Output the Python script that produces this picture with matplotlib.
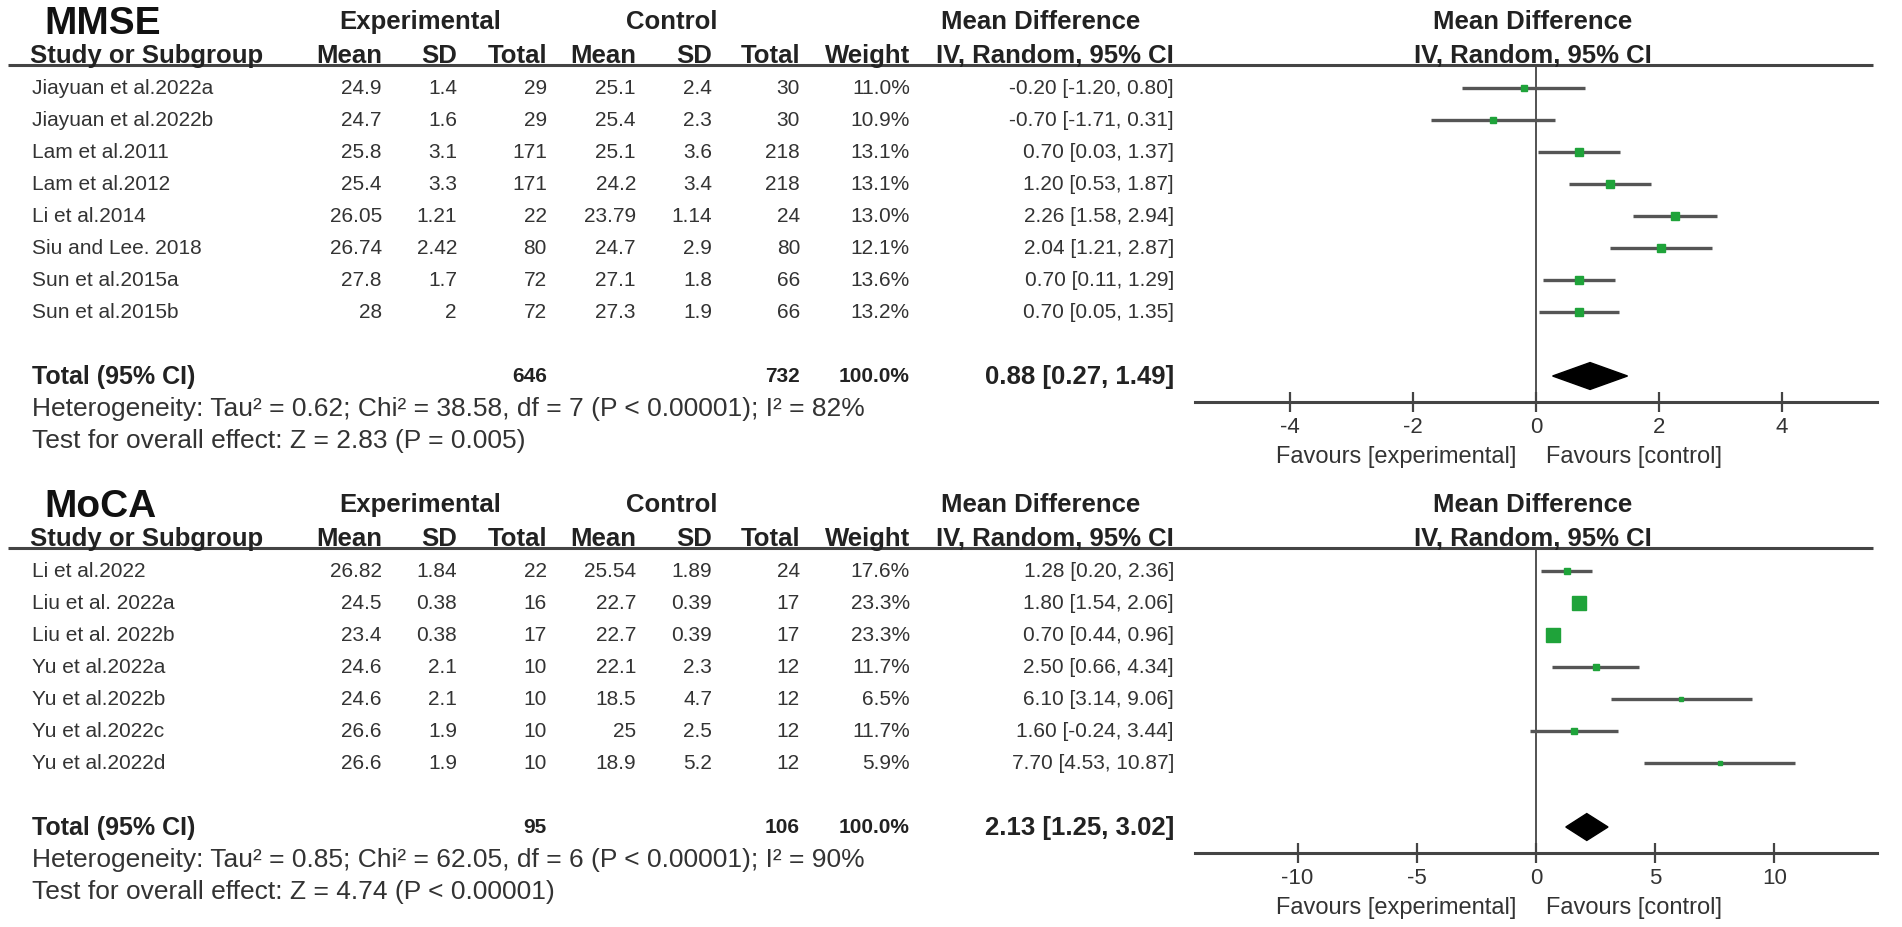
import matplotlib
matplotlib.use('Agg')
import matplotlib.pyplot as plt
import matplotlib.transforms as mtrans
import numpy as np

plt.rcParams['font.family'] = ['Liberation Sans', 'DejaVu Sans']

# ---- MMSE data ----
mmse_study = ['Jiayuan et al.2022a', 'Jiayuan et al.2022b', 'Lam et al.2011', 'Lam et al.2012',
              'Li et al.2014', 'Siu and Lee. 2018', 'Sun et al.2015a', 'Sun et al.2015b']
mmse_exp_mean = [24.9, 24.7, 25.8, 25.4, 26.05, 26.74, 27.8, 28]
mmse_exp_sd = [1.4, 1.6, 3.1, 3.3, 1.21, 2.42, 1.7, 2]
mmse_exp_n = [29, 29, 171, 171, 22, 80, 72, 72]
mmse_ctl_mean = [25.1, 25.4, 25.1, 24.2, 23.79, 24.7, 27.1, 27.3]
mmse_ctl_sd = [2.4, 2.3, 3.6, 3.4, 1.14, 2.9, 1.8, 1.9]
mmse_ctl_n = [30, 30, 218, 218, 24, 80, 66, 66]
mmse_weight = [11.0, 10.9, 13.1, 13.1, 13.0, 12.1, 13.6, 13.2]
mmse_md = [-0.20, -0.70, 0.70, 1.20, 2.26, 2.04, 0.70, 0.70]
mmse_lo = [-1.20, -1.71, 0.03, 0.53, 1.58, 1.21, 0.11, 0.05]
mmse_hi = [0.80, 0.31, 1.37, 1.87, 2.94, 2.87, 1.29, 1.35]
mmse_total = (0.88, 0.27, 1.49)
mmse_het = 'Heterogeneity: Tau\u00b2 = 0.62; Chi\u00b2 = 38.58, df = 7 (P < 0.00001); I\u00b2 = 82%'
mmse_test = 'Test for overall effect: Z = 2.83 (P = 0.005)'
mmse_ticks = [-4, -2, 0, 2, 4]

# ---- MoCA data ----
moca_study = ['Li et al.2022', 'Liu et al. 2022a', 'Liu et al. 2022b', 'Yu et al.2022a',
              'Yu et al.2022b', 'Yu et al.2022c', 'Yu et al.2022d']
moca_exp_mean = [26.82, 24.5, 23.4, 24.6, 24.6, 26.6, 26.6]
moca_exp_sd = [1.84, 0.38, 0.38, 2.1, 2.1, 1.9, 1.9]
moca_exp_n = [22, 16, 17, 10, 10, 10, 10]
moca_ctl_mean = [25.54, 22.7, 22.7, 22.1, 18.5, 25, 18.9]
moca_ctl_sd = [1.89, 0.39, 0.39, 2.3, 4.7, 2.5, 5.2]
moca_ctl_n = [24, 17, 17, 12, 12, 12, 12]
moca_weight = [17.6, 23.3, 23.3, 11.7, 6.5, 11.7, 5.9]
moca_md = [1.28, 1.80, 0.70, 2.50, 6.10, 1.60, 7.70]
moca_lo = [0.20, 1.54, 0.44, 0.66, 3.14, -0.24, 4.53]
moca_hi = [2.36, 2.06, 0.96, 4.34, 9.06, 3.44, 10.87]
moca_total = (2.13, 1.25, 3.02)
moca_het = 'Heterogeneity: Tau\u00b2 = 0.85; Chi\u00b2 = 62.05, df = 6 (P < 0.00001); I\u00b2 = 90%'
moca_test = 'Test for overall effect: Z = 4.74 (P < 0.00001)'
moca_ticks = [-10, -5, 0, 5, 10]

W, H = 1902, 928
PITCH = 32
FS = 15      # study rows
FS_HEAD = 18.5
FS_NOTE = 19
GREY = '#333333'
LINE = '#444444'
GREEN = '#1fa33a'

# column right edges (pixels)
X_NAME = 32
X_EM, X_ESD, X_EN = 382, 457, 547
X_CM, X_CSD, X_CN = 636, 712, 800
X_W, X_CI = 910, 1174
PLOT_L, PLOT_R = 1195, 1877

fig = plt.figure(figsize=(W / 100, H / 100), dpi=100)
bg = fig.add_axes([0, 0, 1, 1])
bg.set_xlim(0, W)
bg.set_ylim(H, 0)
bg.axis('off')


def fmt(v):
    return '{:g}'.format(v)


def ci_text(md, lo, hi):
    return '{:.2f} [{:.2f}, {:.2f}]'.format(md, lo, hi)


def draw_panel(top, title, study, em, esd, en, cm, csd, cn, wt, md, lo, hi,
               total, het, test, ticks, half, base_size):
    first = top + 23
    n = len(study)
    tot_y = first + PITCH * (n + 1)
    axis_y = tot_y + 26

    # headers
    bg.text(44, top - 32, title, fontsize=28, fontweight='bold', color='#111', va='baseline')
    hb = dict(fontsize=FS_HEAD, fontweight='bold', color='#222', va='center')
    bg.text(420, top - 44, 'Experimental', ha='center', **hb)
    bg.text(672, top - 44, 'Control', ha='center', **hb)
    bg.text(1041, top - 44, 'Mean Difference', ha='center', **hb)
    bg.text(1533, top - 44, 'Mean Difference', ha='center', **hb)
    y2 = top - 10
    bg.text(X_NAME - 2, y2, 'Study or Subgroup', ha='left', **hb)
    for x, s in [(X_EM, 'Mean'), (X_ESD, 'SD'), (X_EN, 'Total'), (X_CM, 'Mean'),
                 (X_CSD, 'SD'), (X_CN, 'Total'), (X_W, 'Weight'), (X_CI, 'IV, Random, 95% CI')]:
        bg.text(x, y2, s, ha='right', **hb)
    bg.text(1533, y2, 'IV, Random, 95% CI', ha='center', **hb)
    bg.plot([8, 1873], [top, top], color=LINE, lw=2.2, solid_capstyle='butt')

    # study rows
    rt = dict(fontsize=FS, color=GREY, va='center')
    for i in range(n):
        y = first + PITCH * i
        bg.text(X_NAME, y, study[i], ha='left', **rt)
        bg.text(X_EM, y, fmt(em[i]), ha='right', **rt)
        bg.text(X_ESD, y, fmt(esd[i]), ha='right', **rt)
        bg.text(X_EN, y, str(en[i]), ha='right', **rt)
        bg.text(X_CM, y, fmt(cm[i]), ha='right', **rt)
        bg.text(X_CSD, y, fmt(csd[i]), ha='right', **rt)
        bg.text(X_CN, y, str(cn[i]), ha='right', **rt)
        bg.text(X_W, y, '{:.1f}%'.format(wt[i]), ha='right', **rt)
        bg.text(X_CI, y, ci_text(md[i], lo[i], hi[i]), ha='right', **rt)

    # total rows
    tb = dict(fontweight='bold', color='#222', va='center')
    bg.text(X_NAME, tot_y, 'Total (95% CI)', ha='left', fontsize=18, **tb)
    bg.text(X_EN, tot_y, str(sum(en)), ha='right', fontsize=FS, **tb)
    bg.text(X_CN, tot_y, str(sum(cn)), ha='right', fontsize=FS, **tb)
    bg.text(X_W, tot_y, '{:.1f}%'.format(sum(wt)), ha='right', fontsize=FS, **tb)
    bg.text(X_CI, tot_y, ci_text(*total), ha='right', fontsize=FS_HEAD, **tb)
    nt = dict(fontsize=FS_NOTE, color=GREY, va='center')
    bg.text(X_NAME, tot_y + PITCH, het, ha='left', **nt)
    bg.text(X_NAME, tot_y + 2 * PITCH, test, ha='left', **nt)

    # forest plot axes
    ax = fig.add_axes([PLOT_L / W, (H - axis_y) / H, (PLOT_R - PLOT_L) / W, (axis_y - top) / H])
    ax.patch.set_alpha(0)
    ax.set_xlim(-half, half)
    ax.set_ylim((axis_y - first) / PITCH, (top - first) / PITCH)
    for s in ['left', 'right', 'top']:
        ax.spines[s].set_visible(False)
    ax.spines['bottom'].set_linewidth(2.2)
    ax.spines['bottom'].set_color(LINE)
    ax.set_yticks([])
    ax.set_xticks(ticks)
    ax.set_xticklabels([str(t) for t in ticks])
    ax.tick_params(axis='x', direction='inout', length=14, width=1.6, color=LINE,
                   labelsize=16, labelcolor=GREY, pad=3)
    ax.axvline(0, color=LINE, lw=1.3)

    rows = np.arange(n)
    lo_a, hi_a = np.array(lo), np.array(hi)
    ax.hlines(rows, lo_a, hi_a, color='#555555', lw=2.4)
    w_iv = (3.92 / (hi_a - lo_a)) ** 2
    sizes = base_size * (w_iv / w_iv.max()) ** 0.25
    for i in range(n):
        ax.plot(md[i], rows[i], marker='s', ms=sizes[i], color=GREEN, mec=GREEN, ls='none')

    t_md, t_lo, t_hi = total
    ax.fill([t_lo, t_md, t_hi, t_md], [n + 1, n + 1 - 0.42, n + 1, n + 1 + 0.42], color='black')

    tr_l = mtrans.offset_copy(ax.get_xaxis_transform(), fig=fig, x=-20, y=-54, units='dots')
    tr_r = mtrans.offset_copy(ax.get_xaxis_transform(), fig=fig, x=10, y=-54, units='dots')
    ax.text(0, 0, 'Favours [experimental]', transform=tr_l, ha='right', va='center',
            fontsize=17, color=GREY)
    ax.text(0, 0, 'Favours [control]', transform=tr_r, ha='left', va='center',
            fontsize=17, color=GREY)


draw_panel(66, 'MMSE', mmse_study, mmse_exp_mean, mmse_exp_sd, mmse_exp_n,
           mmse_ctl_mean, mmse_ctl_sd, mmse_ctl_n, mmse_weight, mmse_md, mmse_lo, mmse_hi,
           mmse_total, mmse_het, mmse_test, mmse_ticks, 5.55, 6)
draw_panel(549, 'MoCA', moca_study, moca_exp_mean, moca_exp_sd, moca_exp_n,
           moca_ctl_mean, moca_ctl_sd, moca_ctl_n, moca_weight, moca_md, moca_lo, moca_hi,
           moca_total, moca_het, moca_test, moca_ticks, 14.3, 10)

fig.savefig('out.png', dpi=100, facecolor='white')
